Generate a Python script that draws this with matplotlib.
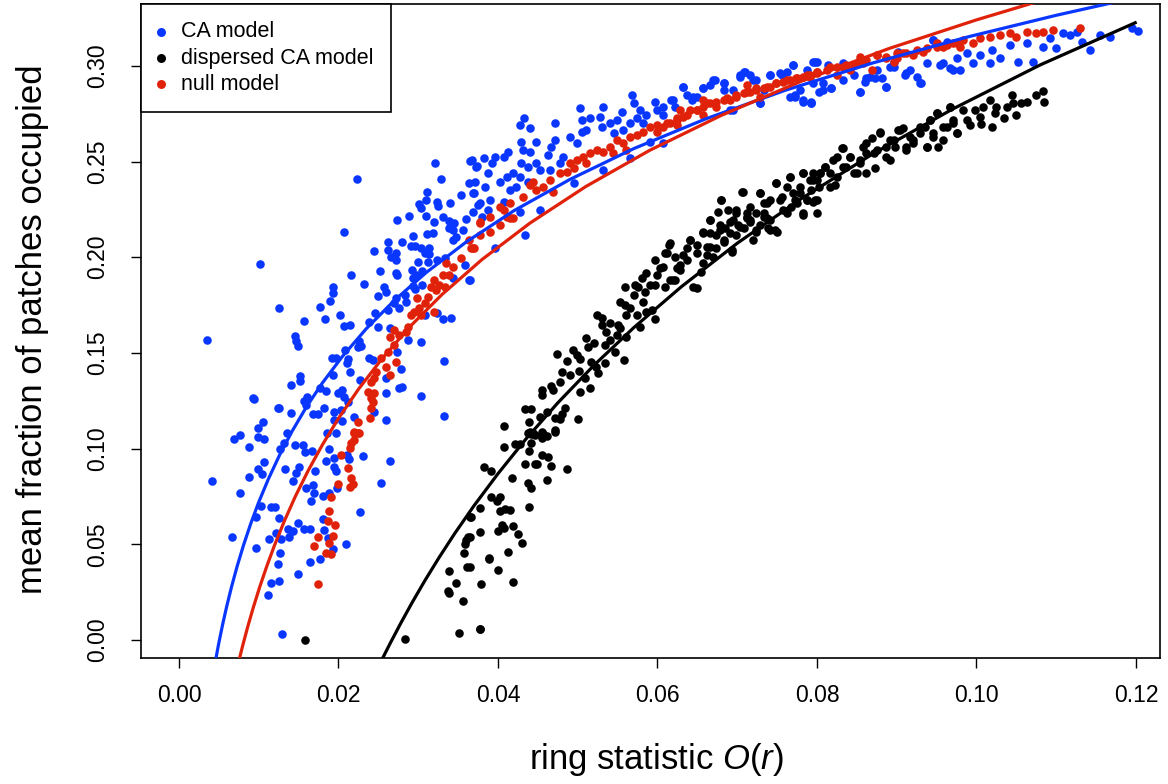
import matplotlib
matplotlib.use("Agg")
import matplotlib.pyplot as plt

plt.rcParams['font.family'] = ['Liberation Sans', 'DejaVu Sans']
plt.rcParams['mathtext.fontset'] = 'custom'
plt.rcParams['mathtext.rm'] = 'Liberation Sans'
plt.rcParams['mathtext.it'] = 'Liberation Sans:italic'

# ---------------- data ----------------
ca_x = [0.0069,0.0076,0.0099,0.0106,0.0088,0.0136,0.0127,0.0132,0.0145,0.0155,0.0158,0.0167,0.0186,0.0197,0.0188,0.0184,0.0194,0.0211,0.0213,0.0231,0.0265,0.0253,0.0107,0.0099,0.0104,0.0133,0.0150,0.0147,0.0143,0.0170,0.0194,0.0197,0.0041,0.0088,0.0076,0.0159,0.0168,0.0169,0.0165,0.0180,0.0188,0.0198,0.0103,0.0115,0.0120,0.0227,0.0097,0.0125,0.0180,0.0149,0.0157,0.0164,0.0137,0.0143,0.0138,0.0122,0.0113,0.0128,0.0067,0.0182,0.0187,0.0193,0.0209,0.0097,0.0127,0.0124,0.0164,0.0177,0.0149,0.0115,0.0126,0.0112,0.0129,
        0.0273,0.0288,0.0310,0.0320,0.0331,0.0338,0.0345,0.0360,0.0207,0.0339,0.0343,0.0356,0.0311,0.0319,0.0293,0.0347,0.0343,0.0262,0.0280,0.0291,0.0296,0.0303,0.0313,0.0308,0.0314,0.0245,0.0262,0.0272,0.0266,0.0272,0.0300,0.0312,0.0324,0.0333,0.0359,0.0101,0.0252,0.0216,0.0272,0.0274,0.0292,0.0297,0.0293,0.0305,0.0364,0.0344,0.0232,0.0193,0.0193,0.0190,0.0257,0.0260,0.0294,0.0296,0.0305,0.0249,0.0272,0.0283,0.0270,0.0276,0.0285,0.0262,0.0177,0.0125,0.0246,0.0202,0.0183,0.0157,0.0238,0.0207,0.0214,0.0324,0.0331,0.0341,0.0308,0.0250,0.0264,0.0145,0.0147,0.0149,0.0035,0.0226,0.0225,0.0228,0.0287,0.0303,0.0208,0.0274,0.0192,0.0197,0.0212,0.0211,0.0238,0.0243,0.0332,0.0214,0.0193,0.0278,0.0152,0.0152,0.0141,0.0227,0.0260,0.0177,0.0184,0.0199,0.0205,0.0207,0.0212,0.0276,0.0280,0.0260,0.0303,0.0093,0.0094,0.0161,0.0157,0.0159,0.0124,0.0126,0.0140,0.0182,0.0168,0.0174,0.0195,0.0203,0.0194,0.0205,0.0220,0.0245,0.0259,0.0332,0.0105,0.0099,
        0.0223,0.0321,0.0365,0.0374,0.0328,0.0364,0.0311,0.0354,0.0370,0.0310,0.0301,0.0303,0.0324,0.0325,0.0340,0.0375,
        0.0367,0.0373,0.0382,0.0371,0.0369,0.0377,0.0384,0.0388,0.0396,0.0392,0.0403,0.0407,0.0411,0.0413,0.0407,0.0390,0.0428,0.0433,0.0440,0.0429,0.0432,0.0440,0.0448,0.0429,0.0438,0.0448,0.0453,0.0419,0.0428,0.0415,0.0423,0.0438,0.0453,0.0428,0.0463,0.0467,0.0471,0.0471,0.0465,0.0478,0.0482,0.0490,0.0499,0.0505,0.0511,0.0503,0.0505,0.0515,0.0528,0.0532,0.0530,0.0540,0.0549,0.0555,0.0545,0.0557,0.0566,0.0568,0.0570,0.0578,0.0574,0.0582,0.0586,0.0597,0.0599,0.0607,0.0566,0.0532,0.0495,0.0591,0.0607,0.0617,0.0622,0.0632,0.0637,0.0643,0.0649,0.0657,0.0666,0.0672,0.0683,0.0695,0.0703,0.0708,0.0716,0.0724,0.0733,0.0741,0.0756,0.0762,0.0770,0.0779,0.0783,0.0793,0.0800,0.0795,0.0729,0.0695,0.0683,0.0766,0.0772,0.0369,0.0380,0.0388,0.0365,0.0434,0.0396,
        0.0795,0.0793,0.0802,0.0808,0.0814,0.0818,0.0833,0.0846,0.0854,0.0860,0.0866,0.0873,0.0881,0.0887,0.0892,0.0896,0.0902,0.0910,0.0917,0.0925,0.0931,0.0938,0.0946,0.0954,0.0963,0.0967,0.0975,0.0979,0.0988,0.0996,0.1004,0.1017,0.1019,0.1029,0.1042,0.1052,0.1063,0.1071,0.1084,0.1092,0.1100,0.1109,0.1117,0.1126,0.1132,0.1142,0.1155,0.1167,0.1195,0.1203,
        0.0607,0.0620,0.0632,0.0645,0.0657,0.0670,0.0683,0.0691,0.0703,0.0710,0.0720,0.0729,0.0741,0.0754,0.0770,0.0772,0.0783,0.0793,0.0787,0.0797,0.0808,0.0818,0.0833,0.0854,0.0862,0.0875,0.0887,0.0896,0.0912,0.0929,0.0946,0.0958,0.0971]
ca_y = [0.1050,0.1070,0.1060,0.1050,0.1007,0.1080,0.1000,0.1030,0.1020,0.1020,0.0980,0.0990,0.1080,0.1080,0.0996,0.0937,0.0950,0.0967,0.0946,0.0963,0.0937,0.0822,0.0930,0.0893,0.0867,0.0893,0.0903,0.0871,0.0832,0.0885,0.0906,0.0885,0.0830,0.0850,0.0770,0.0793,0.0810,0.0770,0.0726,0.0754,0.0770,0.0793,0.0700,0.0697,0.0697,0.0669,0.0641,0.0636,0.0630,0.0610,0.0580,0.0580,0.0578,0.0571,0.0537,0.0560,0.0526,0.0526,0.0540,0.0575,0.0531,0.0474,0.0502,0.0480,0.0453,0.0396,0.0409,0.0423,0.0343,0.0296,0.0310,0.0235,0.0031,
        0.2196,0.2217,0.2217,0.2182,0.2212,0.2190,0.2177,0.2200,0.2133,0.2151,0.2142,0.2142,0.2120,0.2125,0.2113,0.2107,0.2090,0.2078,0.2078,0.2060,0.2060,0.2047,0.2047,0.2021,0.2016,0.2034,0.2038,0.2024,0.2003,0.1985,0.1977,0.1977,0.1985,0.1994,0.1959,0.1963,0.1930,0.1907,0.1916,0.1907,0.1933,0.1907,0.1890,0.1928,0.1881,0.1893,0.1858,0.1846,0.1811,0.1771,0.1846,0.1820,0.1851,0.1834,0.1855,0.1797,0.1788,0.1802,0.1759,0.1736,0.1768,0.1724,0.1742,0.1733,0.1707,0.1698,0.1676,0.1667,0.1660,0.1641,0.1646,0.1707,0.1676,0.1684,0.1698,0.1637,0.1628,0.1590,0.1562,0.1538,0.1567,0.1562,0.1532,0.1536,0.1567,0.1559,0.1515,0.1506,0.1472,0.1475,0.1468,0.1446,0.1472,0.1463,0.1458,0.1402,0.1385,0.1416,0.1381,0.1355,0.1332,0.1358,0.1367,0.1315,0.1302,0.1289,0.1306,0.1271,0.1245,0.1315,0.1320,0.1292,0.1275,0.1263,0.1259,0.1271,0.1250,0.1228,0.1210,0.1214,0.1188,0.1214,0.1179,0.1179,0.1193,0.1202,0.1149,0.1144,0.1167,0.1193,0.1149,0.1172,0.1137,0.1106,
        0.2409,0.2494,0.2504,0.2477,0.2409,0.2389,0.2339,0.2325,0.2334,0.2299,0.2278,0.2255,0.2290,0.2269,0.2285,0.2273,
        0.2508,0.2473,0.2517,0.2395,0.2334,0.2281,0.2369,0.2438,0.2525,0.2490,0.2395,0.2525,0.2421,0.2551,0.2290,0.2299,0.2691,0.2725,0.2673,0.2604,0.2560,0.2551,0.2604,0.2490,0.2473,0.2490,0.2456,0.2438,0.2421,0.2351,0.2369,0.2395,0.2247,0.2238,0.2534,0.2578,0.2612,0.2699,0.2456,0.2490,0.2525,0.2630,0.2595,0.2656,0.2665,0.2778,0.2717,0.2725,0.2734,0.2786,0.2682,0.2699,0.2717,0.2760,0.2647,0.2665,0.2699,0.2847,0.2804,0.2769,0.2725,0.2699,0.2743,0.2813,0.2769,0.2743,0.2517,0.2456,0.2386,0.2604,0.2595,0.2821,0.2786,0.2891,0.2847,0.2821,0.2839,0.2882,0.2900,0.2926,0.2908,0.2873,0.2943,0.2969,0.2952,0.2926,0.2873,0.2952,0.2952,0.2969,0.3004,0.2873,0.2813,0.2813,0.3021,0.2908,0.2804,0.2769,0.2873,0.2839,0.2847,0.2238,0.2212,0.2247,0.1881,0.2116,0.2047,
        0.3021,0.2804,0.2865,0.2908,0.3004,0.2882,0.2926,0.2952,0.2865,0.2917,0.2943,0.2934,0.2934,0.2891,0.2995,0.3021,0.3074,0.2952,0.2978,0.2943,0.2908,0.3013,0.3135,0.3004,0.3126,0.2987,0.3039,0.2978,0.3065,0.3013,0.3056,0.3013,0.3083,0.3039,0.3109,0.3021,0.3117,0.3021,0.3100,0.3143,0.3091,0.3170,0.3161,0.3178,0.3126,0.3083,0.3161,0.3152,0.3196,0.3183,
        0.2786,0.2821,0.2891,0.2839,0.2882,0.2926,0.2908,0.2769,0.2952,0.2969,0.2926,0.2804,0.2952,0.2961,0.3004,0.2839,0.2821,0.2804,0.2978,0.3021,0.2873,0.2882,0.3013,0.2865,0.2934,0.2978,0.2891,0.2995,0.2961,0.2908,0.3135,0.3013,0.2978]

disp_x = [0.0158,0.0284,0.0351,0.0377,0.0356,0.0339,0.0337,0.0347,0.0338,0.0361,0.0358,0.0359,0.0360,0.0363,0.0365,0.0377,
          0.0438,0.0442,0.0446,0.0457,0.0461,0.0472,0.0455,0.0407,0.0421,0.0428,0.0441,0.0439,0.0455,0.0463,0.0466,0.0486,0.0434,0.0446,0.0449,0.0382,0.0391,0.0417,0.0461,0.0438,0.0441,0.0391,0.0403,0.0399,0.0366,0.0403,0.0409,0.0415,0.0439,0.0405,0.0407,0.0400,0.0419,0.0425,0.0430,0.0377,0.0365,0.0412,0.0389,0.0389,0.0400,0.0379,0.0419,0.0378,0.0365,
          0.0407,0.0434,0.0441,0.0439,0.0440,0.0444,0.0455,0.0457,0.0471,0.0453,0.0461,0.0471,0.0480,0.0484,0.0478,0.0500,0.0455,0.0455,0.0467,0.0469,0.0478,0.0480,0.0490,0.0501,0.0503,0.0515,0.0509,0.0474,0.0487,0.0494,0.0499,0.0503,0.0513,0.0511,0.0520,0.0517,0.0523,0.0526,0.0534,0.0534,0.0540,0.0536,0.0530,0.0524,0.0530,0.0547,0.0558,0.0549,0.0561,0.0553,0.0540,0.0551,0.0553,0.0559,0.0566,0.0570,0.0561,0.0574,0.0578,0.0582,0.0586,0.0593,0.0597,0.0584,0.0591,0.0572,0.0576,0.0559,0.0580,0.0586,0.0597,0.0599,0.0597,0.0603,0.0609,0.0614,0.0616,0.0622,0.0624,0.0628,0.0632,0.0637,0.0641,0.0649,0.0649,0.0655,0.0657,0.0662,0.0666,0.0666,0.0674,0.0674,0.0678,0.0683,0.0691,0.0693,0.0699,0.0708,0.0712,0.0720,0.0724,0.0729,0.0737,0.0739,0.0750,0.0783,0.0657,0.0685,0.0701,0.0716,
          0.0666,0.0676,0.0680,0.0689,0.0699,0.0707,0.0716,0.0724,0.0729,0.0733,0.0741,0.0749,0.0756,0.0762,0.0766,0.0768,0.0772,0.0779,0.0783,0.0783,0.0787,0.0791,0.0795,0.0797,0.0802,0.0800,0.0733,0.0712,0.0762,0.0741,0.0695,
          0.0795,0.0793,0.0800,0.0804,0.0810,0.0816,0.0823,0.0825,0.0833,0.0833,0.0841,0.0846,0.0854,0.0858,0.0862,0.0869,0.0873,0.0875,0.0879,0.0887,0.0892,0.0898,0.0902,0.0908,0.0912,0.0917,0.0921,0.0929,0.0935,0.0938,0.0942,0.0946,0.0950,0.0952,0.0958,0.0967,0.0971,0.0975,0.0983,0.0988,0.0992,0.0998,0.1004,0.1006,0.1008,0.1017,0.1019,0.1023,0.1025,0.1034,0.1038,0.1044,0.1046,0.1050,0.1056,0.1063,0.1075,0.1084,0.1085,
          0.0607,0.0612,0.0616,0.0622,0.0609,0.0620,0.0628,0.0637,0.0641,0.0649,0.0645,0.0657,0.0662,0.0666,0.0670,0.0678,0.0680,0.0683,0.0691,0.0693,0.0699,0.0703,0.0706,0.0712,0.0716,0.0724,0.0729,0.0733,0.0737,0.0741,0.0747,0.0749,0.0754,0.0758,0.0766,0.0770,0.0775,0.0779,0.0783,0.0787,0.0795,0.0800,0.0804,0.0810,0.0816,0.0820,0.0825,0.0831,0.0837,0.0841,0.0850,0.0854,0.0862,0.0862,0.0871,0.0879,0.0887,0.0892,0.0896,0.0904,0.0912,0.0921,0.0929,0.0938,0.0942,0.0946,0.0950,0.0958,0.0963,0.0967,0.0971,0.0975]
disp_y = [0.0000,0.0004,0.0035,0.0060,0.0204,0.0244,0.0256,0.0296,0.0359,0.0383,0.0456,0.0502,0.0522,0.0540,0.0644,0.0691,
          0.1080,0.1076,0.1070,0.1076,0.1066,0.1088,0.1054,0.1007,0.1024,0.1024,0.1028,0.0989,0.0967,0.0955,0.0909,0.0892,0.0920,0.0918,0.0918,0.0902,0.0885,0.0845,0.0836,0.0819,0.0793,0.0749,0.0749,0.0728,0.0644,0.0674,0.0683,0.0680,0.0693,0.0601,0.0583,0.0569,0.0596,0.0554,0.0508,0.0566,0.0540,0.0461,0.0430,0.0421,0.0366,0.0294,0.0303,0.0059,0.0383,
          0.1120,0.1207,0.1207,0.1137,0.1085,0.1080,0.1088,0.1071,0.1097,0.1167,0.1193,0.1162,0.1179,0.1211,0.1155,0.1155,0.1306,0.1280,0.1329,0.1306,0.1350,0.1402,0.1385,0.1405,0.1297,0.1315,0.1367,0.1493,0.1458,0.1515,0.1489,0.1468,0.1533,0.1576,0.1550,0.1455,0.1428,0.1393,0.1446,0.1541,0.1567,0.1611,0.1646,0.1698,0.1681,0.1506,0.1463,0.1594,0.1585,0.1628,0.1655,0.1646,0.1768,0.1750,0.1733,0.1802,0.1698,0.1698,0.1637,0.1768,0.1715,0.1724,0.1677,0.1820,0.1855,0.1855,0.1846,0.1846,0.1890,0.1916,0.1855,0.1907,0.1985,0.1942,0.2020,0.2064,0.1881,0.1881,0.1942,0.1959,0.2011,0.2047,0.2090,0.2064,0.1838,0.1924,0.1968,0.2011,0.2055,0.2125,0.2116,0.2047,0.2168,0.2081,0.2186,0.2029,0.2116,0.2151,0.2203,0.2090,0.2133,0.2168,0.2203,0.2151,0.2133,0.2220,0.2133,0.2151,0.2168,0.2186,
          0.2194,0.2238,0.2299,0.2247,0.2247,0.2342,0.2194,0.2229,0.2334,0.2281,0.2299,0.2386,0.2316,0.2369,0.2421,0.2264,0.2299,0.2334,0.2438,0.2229,0.2299,0.2403,0.2438,0.2299,0.2369,0.2229,0.2212,0.2229,0.2229,0.2194,0.2194,
          0.2290,0.2351,0.2403,0.2438,0.2473,0.2438,0.2377,0.2525,0.2569,0.2473,0.2525,0.2438,0.2490,0.2578,0.2543,0.2621,0.2464,0.2560,0.2656,0.2525,0.2612,0.2578,0.2665,0.2673,0.2560,0.2630,0.2595,0.2647,0.2682,0.2578,0.2717,0.2630,0.2751,0.2578,0.2682,0.2786,0.2699,0.2647,0.2769,0.2717,0.2691,0.2769,0.2734,0.2696,0.2786,0.2821,0.2682,0.2751,0.2786,0.2725,0.2786,0.2847,0.2804,0.2743,0.2804,0.2813,0.2847,0.2870,0.2813,
          0.1950,0.2020,0.2073,0.2003,0.1846,0.1881,0.1933,0.1985,0.2090,0.2020,0.1846,0.2125,0.2055,0.2194,0.2003,0.2142,0.2299,0.2090,0.2125,0.2038,0.2229,0.2159,0.2342,0.2212,0.2264,0.2142,0.2334,0.2229,0.2281,0.2142,0.2142,0.2386,0.2299,0.2247,0.2421,0.2334,0.2281,0.2369,0.2438,0.2299,0.2403,0.2299,0.2438,0.2473,0.2369,0.2508,0.2421,0.2569,0.2473,0.2525,0.2438,0.2508,0.2595,0.2438,0.2543,0.2647,0.2578,0.2508,0.2612,0.2665,0.2578,0.2612,0.2682,0.2578,0.2717,0.2647,0.2751,0.2612,0.2682,0.2786,0.2717,0.2647]

null_x = [0.0220,0.0225,0.0216,0.0220,0.0215,0.0203,0.0212,0.0216,0.0215,0.0218,0.0200,0.0191,0.0188,0.0187,0.0196,0.0193,0.0174,0.0169,0.0188,0.0184,0.0191,0.0174,
          0.0377,0.0364,0.0370,0.0366,0.0354,0.0343,0.0335,0.0331,0.0339,0.0320,0.0326,0.0333,0.0316,0.0322,0.0312,0.0299,0.0308,0.0301,0.0295,0.0291,0.0320,0.0303,0.0287,0.0285,0.0276,0.0270,0.0264,0.0270,0.0262,0.0272,0.0253,0.0260,0.0264,0.0247,0.0245,0.0241,0.0237,0.0245,0.0241,0.0243,0.0241,0.0239,0.0224,0.0220,0.0226,
          0.0377,0.0390,0.0407,0.0415,0.0419,0.0432,0.0444,0.0448,0.0457,0.0465,0.0469,0.0478,0.0486,0.0490,0.0499,0.0507,0.0515,0.0524,0.0532,0.0540,0.0549,0.0557,0.0566,0.0574,0.0582,0.0591,0.0599,0.0607,0.0616,0.0624,0.0632,0.0641,0.0649,0.0657,0.0666,0.0674,0.0683,0.0691,0.0699,0.0708,0.0716,0.0724,0.0733,0.0741,0.0749,0.0758,0.0766,0.0774,0.0783,0.0791,0.0800,0.0511,0.0544,0.0599,0.0657,0.0729,0.0561,0.0624,0.0495,0.0440,0.0402,0.0411,
          0.0377,0.0390,0.0403,0.0415,0.0369,
          0.0791,0.0800,0.0816,0.0825,0.0833,0.0846,0.0858,0.0869,0.0875,0.0887,0.0900,0.0908,0.0921,0.0933,0.0950,0.0958,0.0971,0.0983,0.0996,0.1004,0.1017,0.1029,0.1042,0.1050,0.1063,0.1075,0.1084,0.1096,0.1130,0.0841,0.0896,0.0979,
          0.0612,0.0624,0.0637,0.0649,0.0662,0.0674,0.0687,0.0699,0.0712,0.0724,0.0737,0.0749,0.0762,0.0775,0.0787,0.0800,0.0812,0.0825,0.0837,0.0850,0.0862,0.0875,0.0887,0.0900,0.0912,0.0925,0.0938,0.0950,0.0963,0.0975,0.0628,0.0657,0.0712,0.0854]
null_y = [0.1083,0.1083,0.1028,0.1045,0.1002,0.0965,0.0899,0.0845,0.0798,0.0814,0.0814,0.0746,0.0674,0.0623,0.0599,0.0543,0.0540,0.0490,0.0505,0.0453,0.0448,0.0293,
          0.2177,0.2090,0.2047,0.2047,0.1994,0.1950,0.1968,0.1907,0.1907,0.1881,0.1855,0.1846,0.1846,0.1829,0.1794,0.1785,0.1759,0.1733,0.1715,0.1698,0.1715,0.1698,0.1637,0.1611,0.1594,0.1620,0.1585,0.1541,0.1506,0.1455,0.1472,0.1428,0.1385,0.1402,0.1367,0.1350,0.1297,0.1289,0.1263,0.1245,0.1211,0.1159,0.1141,0.1088,0.1080,
          0.2186,0.2212,0.2247,0.2281,0.2203,0.2316,0.2395,0.2351,0.2369,0.2403,0.2342,0.2438,0.2447,0.2490,0.2508,0.2525,0.2543,0.2560,0.2551,0.2578,0.2612,0.2595,0.2630,0.2638,0.2656,0.2682,0.2691,0.2682,0.2699,0.2717,0.2734,0.2769,0.2769,0.2786,0.2804,0.2786,0.2821,0.2821,0.2839,0.2856,0.2865,0.2873,0.2882,0.2891,0.2908,0.2917,0.2926,0.2934,0.2943,0.2952,0.2961,0.2490,0.2543,0.2656,0.2743,0.2839,0.2560,0.2691,0.2464,0.2377,0.2264,0.2212,
          0.2116,0.2133,0.2168,0.2203,0.2047,
          0.2943,0.2969,0.2995,0.2952,0.2995,0.3004,0.3013,0.2978,0.3056,0.3047,0.3039,0.3065,0.3056,0.3074,0.3117,0.3100,0.3117,0.3135,0.3117,0.3143,0.3152,0.3161,0.3170,0.3152,0.3178,0.3170,0.3178,0.3187,0.3196,0.2978,0.3021,0.3100,
          0.2699,0.2725,0.2743,0.2769,0.2804,0.2813,0.2830,0.2847,0.2865,0.2882,0.2891,0.2908,0.2926,0.2934,0.2952,0.2969,0.2978,0.2995,0.3004,0.3013,0.3030,0.3056,0.3039,0.3065,0.3065,0.3083,0.3091,0.3100,0.3109,0.3117,0.2769,0.2821,0.2900,0.3048]

# fitted curves, sampled along the lines in the reference
ca_fit_x = [0.00464,0.0050,0.0055,0.0060,0.0066,0.0073,0.0081,0.0090,0.0100,0.0112,0.0126,0.0142,0.0160,0.0180,0.0205,0.0235,0.0270,0.0310,0.0360,0.0420,0.0490,0.0570,0.0660,0.0760,0.0870,0.0990,0.1100,0.1175]
ca_fit_y = [-0.0095,-0.0015,0.0086,0.0178,0.0279,0.0386,0.0496,0.0608,0.0720,0.0840,0.0965,0.1092,0.1219,0.1344,0.1482,0.1627,0.1774,0.1920,0.2079,0.2243,0.2406,0.2567,0.2722,0.2872,0.3015,0.3152,0.3264,0.3334]
null_fit_x = [0.00756,0.0080,0.0086,0.0093,0.0101,0.0110,0.0120,0.0132,0.0146,0.0162,0.0180,0.0200,0.0225,0.0255,0.0290,0.0330,0.0380,0.0440,0.0510,0.0590,0.0680,0.0780,0.0890,0.1000,0.1080]
null_fit_y = [-0.0101,-0.0028,0.0066,0.0167,0.0274,0.0384,0.0497,0.0620,0.0751,0.0885,0.1021,0.1158,0.1310,0.1472,0.1639,0.1806,0.1988,0.2178,0.2369,0.2558,0.2741,0.2919,0.3090,0.3240,0.3340]
disp_fit_x = [0.0255,0.0265,0.0278,0.0292,0.0308,0.0326,0.0346,0.0370,0.0400,0.0435,0.0475,0.0520,0.0570,0.0630,0.0700,0.0780,0.0870,0.0970,0.1080,0.1199]
disp_fit_y = [-0.0098,-0.0016,0.0087,0.0193,0.0308,0.0430,0.0558,0.0702,0.0869,0.1050,0.1239,0.1434,0.1631,0.1846,0.2073,0.2305,0.2540,0.2774,0.3005,0.3225]

series_labels = ["CA model", "dispersed CA model", "null model"]
series_colors = ["#0a37ff", "#000000", "#e0220a"]
x_ticks = [0.00, 0.02, 0.04, 0.06, 0.08, 0.10, 0.12]
y_ticks = [0.00, 0.05, 0.10, 0.15, 0.20, 0.25, 0.30]

# ---------------- figure ----------------
fig = plt.figure(figsize=(11.68, 7.84), dpi=100)
ax = fig.add_axes([141/1168, 1-658/784, (1160-141)/1168, (658-4)/784])

pt = 38
h1 = ax.scatter(ca_x, ca_y, s=pt, color=series_colors[0], linewidths=0, zorder=2)
h2 = ax.scatter(disp_x, disp_y, s=pt, color=series_colors[1], linewidths=0, zorder=2)
h3 = ax.scatter(null_x, null_y, s=pt, color=series_colors[2], linewidths=0, zorder=2)

ax.plot(ca_fit_x, ca_fit_y, color=series_colors[0], lw=2.3, zorder=3)
ax.plot(disp_fit_x, disp_fit_y, color=series_colors[1], lw=2.3, zorder=3)
ax.plot(null_fit_x, null_fit_y, color=series_colors[2], lw=2.3, zorder=3)

ax.set_xlim(-0.00476, 0.12301)
ax.set_ylim(-0.0094, 0.3323)

ax.set_xticks(x_ticks)
ax.set_xticklabels([f"{v:.2f}" for v in x_ticks])
ax.set_yticks(y_ticks)
ax.set_yticklabels([f"{v:.2f}" for v in y_ticks], rotation=90, va='center')
ax.tick_params(axis='both', direction='out', length=7, width=1.0, labelsize=16.5, color='black')
ax.tick_params(axis='x', pad=12)
ax.tick_params(axis='y', pad=16)
for sp in ax.spines.values():
    sp.set_linewidth(1.2)
    sp.set_color('black')

fig.text(656/1168, 1-760/784, r"ring statistic $O(r)$", ha='center', va='center', fontsize=25)
fig.text(33/1168, 1-329/784, "mean fraction of patches occupied", ha='center', va='center', rotation=90, fontsize=25)

leg = ax.legend([h1, h2, h3], series_labels, loc='upper left', bbox_to_anchor=(0, 1), borderaxespad=0,
                fancybox=False, framealpha=1, edgecolor='black', fontsize=15.5,
                handlelength=0.3, handletextpad=0.76, borderpad=0.8,
                labelspacing=0.25, markerscale=1.05)
leg.get_frame().set_linewidth(1.2)

fig.savefig("out.png", dpi=100, facecolor='white')
